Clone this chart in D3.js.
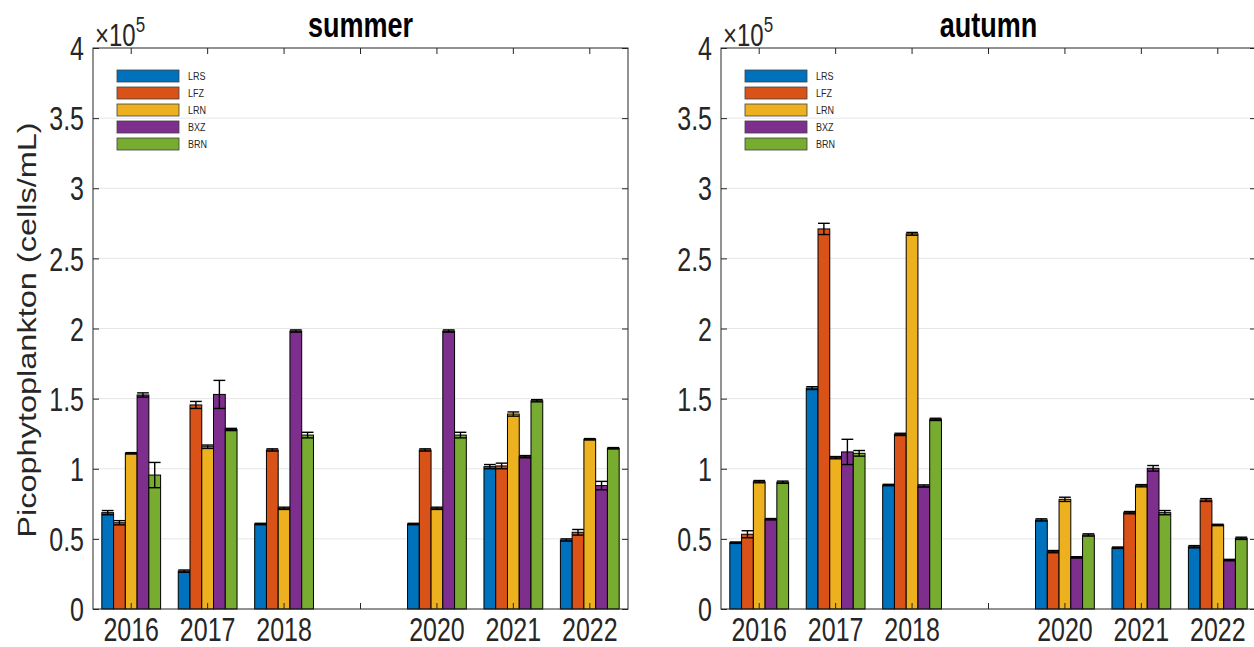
<!DOCTYPE html>
<html>
<head>
<meta charset="utf-8">
<script src="https://cdn.jsdelivr.net/npm/d3@7"></script>
<style>
  html, body { margin: 0; padding: 0; background: #ffffff; }
  svg { display: block; font-family: "Liberation Sans", Arial, Helvetica, sans-serif; }
</style>
</head>
<body>
<svg id="chart" width="1254" height="647"></svg>
<script>
// ---- data (cells/mL) ----
const years = ["2016", "2017", "2018", "2019", "2020", "2021", "2022"];
const yearLabels = ["2016", "2017", "2018", "", "2020", "2021", "2022"];
const sites = ["LRS", "LFZ", "LRN", "BXZ", "BRN"];
const siteColors = ["#0072BD", "#D95319", "#EDB120", "#7E2F8E", "#77AC30"];
const yTicks = [0, 50000, 100000, 150000, 200000, 250000, 300000, 350000, 400000];

// summer means
const summerLRS = [68700, 27000, 60600, null, 60600, 101500, 49200];
const summerLFZ = [61500, 145500, 113400, null, 113400, 102000, 54700];
const summerLRN = [111000, 115700, 71800, null, 71800, 139000, 121000];
const summerBXZ = [152600, 153000, 198200, null, 198200, 108600, 88000];
const summerBRN = [95500, 128000, 124000, null, 124000, 148500, 114600];
// summer standard errors
const summerLRSerr = [1500, 800, 500, null, 500, 1500, 800];
const summerLFZerr = [1500, 2500, 800, null, 800, 2000, 2000];
const summerLRNerr = [500, 1200, 800, null, 800, 1500, 500];
const summerBXZerr = [1500, 10000, 800, null, 800, 800, 3000];
const summerBRNerr = [9000, 800, 2000, null, 2000, 800, 500];

// autumn means
const autumnLRS = [47300, 157500, 88400, null, 63500, 43700, 44400];
const autumnLFZ = [53300, 271000, 124500, null, 40900, 68700, 77700];
const autumnLRN = [90800, 107900, 267500, null, 78200, 87900, 59900];
const autumnBXZ = [64000, 112000, 87700, null, 36800, 100300, 34900];
const autumnBRN = [90400, 111000, 135200, null, 52800, 68700, 50400];
// autumn standard errors
const autumnLRSerr = [500, 1000, 500, null, 800, 500, 800];
const autumnLFZerr = [2500, 4000, 800, null, 800, 800, 1000];
const autumnLRNerr = [800, 800, 1000, null, 1500, 800, 500];
const autumnBXZerr = [500, 9000, 800, null, 500, 2000, 500];
const autumnBRNerr = [800, 2000, 800, null, 800, 1500, 800];

const panels = [
  { title: "summer", left: 93, showYLabel: true,
    means: [summerLRS, summerLFZ, summerLRN, summerBXZ, summerBRN],
    errs: [summerLRSerr, summerLFZerr, summerLRNerr, summerBXZerr, summerBRNerr] },
  { title: "autumn", left: 721, showYLabel: false,
    means: [autumnLRS, autumnLFZ, autumnLRN, autumnBXZ, autumnBRN],
    errs: [autumnLRSerr, autumnLFZerr, autumnLRNerr, autumnBXZerr, autumnBRNerr] }
];

// ---- layout ----
const SY = 1.3;            // vertical stretch applied to text glyphs
const plotW = 535, plotTop = 48, plotBottom = 609;
const axisColor = "#262626";
const svg = d3.select("#chart");

function stretchedText(parent, x, y, str, opts = {}) {
  const g = parent.append("g").attr("transform", `translate(${x},${y}) scale(1,${SY})${opts.rotate ? " rotate(" + opts.rotate + ")" : ""}`);
  const t = g.append("text")
    .attr("text-anchor", opts.anchor || "start")
    .attr("font-size", opts.size || 25)
    .attr("font-weight", opts.weight || "normal")
    .attr("fill", opts.fill || "#262626")
    .text(str);
  return t;
}

panels.forEach(p => {
  const x0 = p.left, x1 = p.left + plotW;
  const g = svg.append("g");

  const x = d3.scaleBand().domain(years).range([x0, x1]).paddingInner(0).paddingOuter(0);
  const y = d3.scaleLinear().domain([0, 400000]).range([plotBottom, plotTop]);
  const groupW = x.bandwidth() * 0.769;
  const xs = d3.scaleBand().domain(sites).range([-groupW / 2, groupW / 2]).padding(0);

  // horizontal grid
  g.append("g").selectAll("line")
    .data(yTicks.slice(1, -1))
    .join("line")
    .attr("x1", x0).attr("x2", x1)
    .attr("y1", d => y(d)).attr("y2", d => y(d))
    .attr("stroke", "#e6e6e6").attr("stroke-width", 1);

  // bars
  sites.forEach((s, si) => {
    const rows = years.map((yr, i) => ({ yr, v: p.means[si][i], e: p.errs[si][i] }))
      .filter(d => d.v != null);
    g.append("g").selectAll("rect")
      .data(rows)
      .join("rect")
      .attr("x", d => x(d.yr) + x.bandwidth() / 2 + xs(s))
      .attr("width", xs.bandwidth())
      .attr("y", d => y(d.v))
      .attr("height", d => y(0) - y(d.v))
      .attr("fill", siteColors[si])
      .attr("stroke", "#000").attr("stroke-width", 1);

    // error bars
    const eb = g.append("g").attr("stroke", "#000").attr("stroke-width", 1.4);
    const cx = d => x(d.yr) + x.bandwidth() / 2 + xs(s) + xs.bandwidth() / 2;
    const capHalf = xs.bandwidth() * 0.5;
    eb.selectAll("line.v").data(rows).join("line").attr("class", "v")
      .attr("x1", cx).attr("x2", cx)
      .attr("y1", d => y(d.v - d.e)).attr("y2", d => y(d.v + d.e));
    eb.selectAll("line.t").data(rows).join("line").attr("class", "t")
      .attr("x1", d => cx(d) - capHalf).attr("x2", d => cx(d) + capHalf)
      .attr("y1", d => y(d.v + d.e)).attr("y2", d => y(d.v + d.e));
    eb.selectAll("line.b").data(rows).join("line").attr("class", "b")
      .attr("x1", d => cx(d) - capHalf).attr("x2", d => cx(d) + capHalf)
      .attr("y1", d => y(d.v - d.e)).attr("y2", d => y(d.v - d.e));
  });

  // axes (inward ticks, boxed)
  const fmtY = d => String(+(d / 1e5).toFixed(1));
  const yAxis = g.append("g").attr("transform", `translate(${x0},0)`)
    .call(d3.axisLeft(y).tickValues(yTicks).tickSize(-6).tickPadding(10).tickFormat(fmtY));
  yAxis.select(".domain").remove();
  yAxis.selectAll("line").attr("stroke", axisColor);
  yAxis.selectAll("text")
    .attr("font-size", 25).attr("fill", "#262626")
    .attr("font-family", "Liberation Sans, Arial, sans-serif")
    .attr("x", -9).attr("dy", "0.36em")
    .attr("transform", `scale(1,${SY})`);

  const yAxisR = g.append("g").attr("transform", `translate(${x1},0)`)
    .call(d3.axisRight(y).tickValues(yTicks).tickSize(-6).tickFormat(""));
  yAxisR.select(".domain").remove();
  yAxisR.selectAll("line").attr("stroke", axisColor);

  const xAxis = g.append("g").attr("transform", `translate(0,${plotBottom})`)
    .call(d3.axisBottom(x).tickSize(-6).tickFormat((d, i) => yearLabels[i]));
  xAxis.select(".domain").remove();
  xAxis.selectAll("line").attr("stroke", axisColor);
  xAxis.selectAll("text")
    .attr("font-size", 25).attr("fill", "#262626")
    .attr("font-family", "Liberation Sans, Arial, sans-serif")
    .attr("y", 32 / SY).attr("dy", 0)
    .attr("transform", `scale(1,${SY})`);

  const xAxisT = g.append("g").attr("transform", `translate(0,${plotTop})`)
    .call(d3.axisTop(x).tickSize(-6).tickFormat(""));
  xAxisT.select(".domain").remove();
  xAxisT.selectAll("line").attr("stroke", axisColor);

  // axes box
  g.append("rect")
    .attr("x", x0).attr("y", plotTop).attr("width", plotW).attr("height", plotBottom - plotTop)
    .attr("fill", "none").attr("stroke", axisColor).attr("stroke-width", 1);

  // exponent label
  const ex = stretchedText(g, x0 + 2, 46, "", { size: 24, fill: "#262626" });
  ex.append("tspan").text("\u00d710");
  ex.append("tspan").attr("font-size", 17).attr("dy", -11).text("5");

  // title
  stretchedText(g, x0 + plotW / 2, 37, p.title, { anchor: "middle", size: 27, weight: "bold", fill: "#000" });

  // legend
  const lg = g.append("g");
  sites.forEach((s, si) => {
    const ly = 70 + si * 17;
    lg.append("rect")
      .attr("x", x0 + 24).attr("y", ly).attr("width", 62).attr("height", 12)
      .attr("fill", siteColors[si]).attr("stroke", "#404040").attr("stroke-width", 0.8);
    stretchedText(lg, x0 + 95, ly + 10, s, { size: 9, fill: "#262626" });
  });

  if (p.showYLabel) {
    stretchedText(g, 36, 330, "Picophytoplankton (cells/mL)", { anchor: "middle", size: 25, rotate: -90, fill: "#262626" });
  }
});
</script>
</body>
</html>
